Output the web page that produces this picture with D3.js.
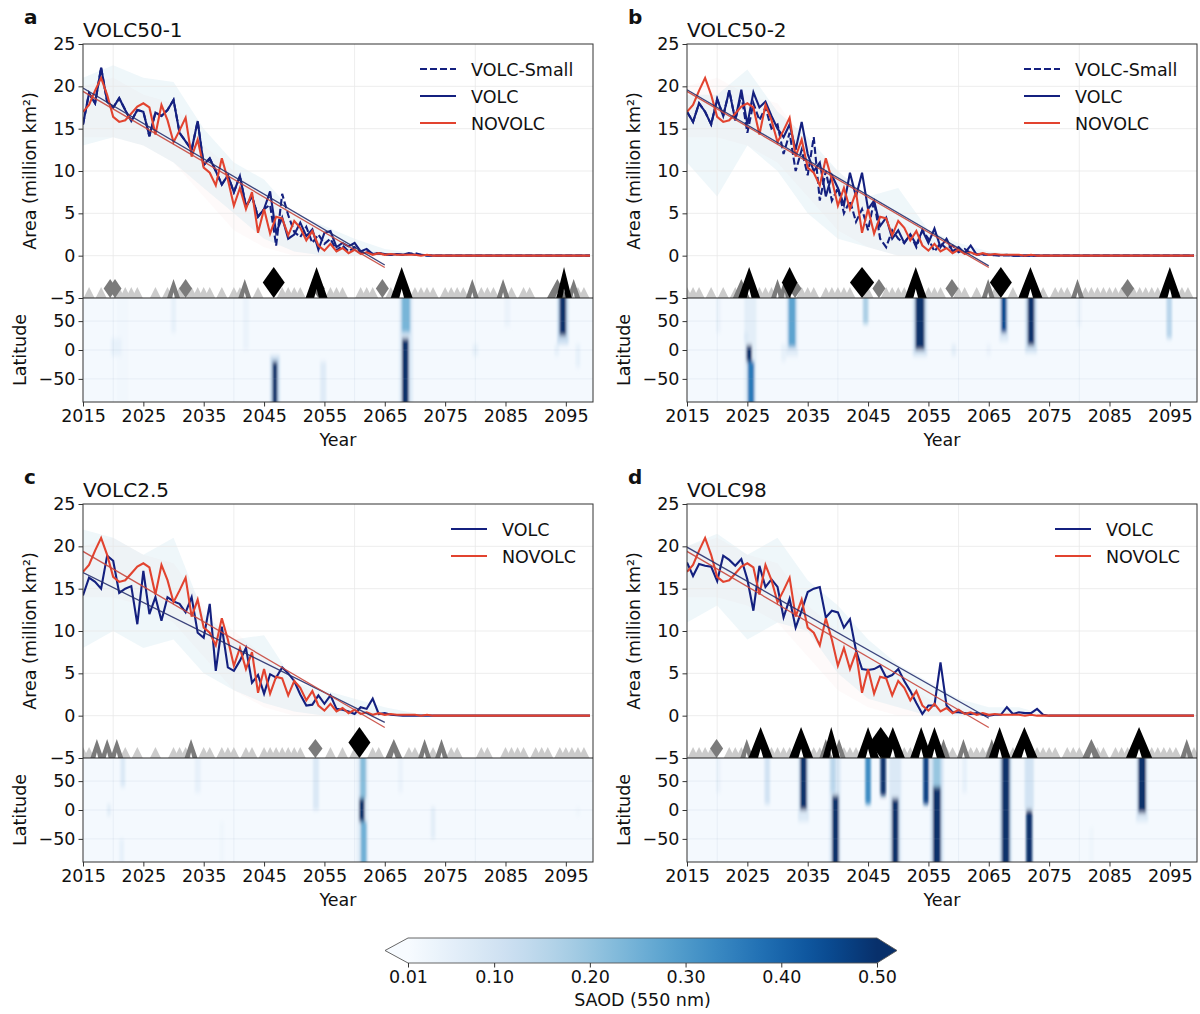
<!DOCTYPE html>
<html>
<head>
<meta charset="utf-8">
<script src="https://cdn.jsdelivr.net/npm/d3@7"></script>
<style>
  body { margin: 0; background: #fff; }
  svg { font-family: "DejaVu Sans", sans-serif; display: block; }
</style>
</head>
<body>
<svg id="fig" width="1200" height="1014"></svg>
<script>
// Années 2015-2099
const years = d3.range(2015, 2100);
const seriesNames = ["VOLC-Small", "VOLC", "NOVOLC"];

// Surface (million km²), NOVOLC identique dans les 4 panneaux
const novolc = [
  17.0, 17.8, 19.5, 21.0, 19.0, 16.4, 15.8, 16.0, 16.8, 17.6,
  18.0, 17.5, 14.3, 17.8, 16.0, 13.4, 14.8, 16.3, 11.7, 13.7,
  10.4, 9.8, 8.3, 11.5, 9.0, 5.9, 8.0, 5.5, 7.5, 2.7,
  5.5, 2.6, 4.6, 4.4, 2.4, 4.1, 3.3, 1.8, 2.9, 1.2,
  0.6, 1.4, 0.5, 0.9, 0.3, 0.7, 0.2, 0.4, 0.1, 0.3,
  0.1, 0.2, 0.1, 0.1, 0.1, 0.1, 0.0, 0.1, 0.0, 0.0,
  0, 0, 0, 0, 0, 0, 0, 0, 0, 0,
  0, 0, 0, 0, 0, 0, 0, 0, 0, 0,
  0, 0, 0, 0, 0
];

const volcA = [
  15.5, 19.2, 18.0, 22.2, 18.2, 17.5, 18.6, 17.2, 15.9, 17.2,
  17.0, 14.1, 16.9, 16.5, 17.2, 18.4, 14.5, 13.5, 12.5, 15.9,
  10.7, 11.5, 10.0, 8.4, 9.5, 7.5, 9.4, 5.8, 7.0, 4.6,
  5.5, 7.6, 2.7, 4.5, 2.0, 2.5, 3.9, 2.3, 3.1, 0.7,
  2.7, 2.9, 1.0, 1.5, 1.1, 1.5, 0.5, 0.8, 0.2, 0.3,
  0.2, 0.1, 0.2, 0.1, 0.3, 0.1, 0.1, 0.05, 0, 0,
  0, 0, 0, 0, 0, 0, 0, 0, 0, 0,
  0, 0, 0, 0, 0, 0, 0, 0, 0, 0,
  0, 0, 0, 0, 0
];
const volcSmallA = [
  15.5, 19.2, 18.0, 22.2, 18.2, 17.5, 18.6, 17.2, 15.9, 17.2,
  17.0, 14.1, 16.9, 16.5, 17.2, 18.4, 14.5, 13.5, 12.5, 15.9,
  10.7, 11.5, 10.0, 8.4, 9.5, 7.5, 9.4, 5.8, 7.0, 4.6,
  5.5, 6.0, 1.2, 7.3, 4.8, 2.8, 2.2, 3.4, 1.5, 2.5,
  1.4, 2.0, 0.6, 1.2, 0.5, 1.0, 0.3, 0.5, 0.2, 0.3,
  0.1, 0.1, 0.2, 0.1, 0.2, 0.3, 0.1, 0, 0, 0,
  0, 0, 0, 0, 0, 0, 0, 0, 0, 0,
  0, 0, 0, 0, 0, 0, 0, 0, 0, 0,
  0, 0, 0, 0, 0
];

const volcB = [
  17.0, 15.8, 18.0, 17.0, 15.5, 18.5, 16.5, 19.5, 16.0, 19.6,
  15.5, 19.3, 17.5, 18.2, 16.5, 15.0, 14.0, 15.5, 12.5, 15.8,
  12.0, 10.0, 11.0, 7.0, 9.5, 8.0, 6.0, 9.8, 7.0, 9.8,
  5.5, 6.5, 3.5, 4.5, 2.0, 3.0, 1.5, 2.5, 1.3, 3.0,
  1.5, 3.2, 1.0, 2.0, 0.5, 1.0, 0.3, 1.2, 0.1, 0.2,
  0.1, 0.1, 0.05, 0.1, 0, 0, 0, 0, 0, 0,
  0, 0, 0, 0, 0, 0, 0, 0, 0, 0,
  0, 0, 0, 0, 0, 0, 0, 0, 0, 0,
  0, 0, 0, 0, 0
];
const volcSmallB = [
  17.0, 15.8, 18.0, 17.0, 15.5, 18.5, 16.5, 19.5, 16.0, 19.0,
  14.5, 18.0, 16.0, 17.5, 15.0, 15.5, 12.0, 14.5, 10.0, 12.5,
  9.5, 14.0, 6.5, 10.0, 6.5, 8.0, 5.0, 6.5, 4.0, 5.5,
  3.0, 6.5, 2.0, 1.0, 3.0, 2.0, 1.5, 2.5, 1.0, 3.0,
  2.0, 0.5, 1.5, 0.8, 1.2, 0.4, 0.8, 0.3, 0.2, 0.1,
  0.1, 0.05, 0, 0.05, 0, 0, 0, 0, 0, 0,
  0, 0, 0, 0, 0, 0, 0, 0, 0, 0,
  0, 0, 0, 0, 0, 0, 0, 0, 0, 0,
  0, 0, 0, 0, 0
];

const volcC = [
  14.2, 16.3, 15.8, 15.0, 18.9, 18.3, 14.5, 15.0, 15.3, 10.8,
  17.1, 12.0, 14.0, 11.2, 14.0, 13.5, 13.2, 12.2, 14.0, 9.8,
  9.2, 13.2, 5.3, 10.5, 5.7, 5.3, 6.5, 8.0, 3.9, 4.8,
  2.6, 4.9, 4.5, 5.7, 5.0, 4.1, 2.5, 1.2, 1.3, 2.4,
  1.4, 2.4, 0.8, 0.7, 0.5, 0.2, 1.0, 0.8, 2.0, 0.2,
  0.3, 0.1, 0.05, 0, 0, 0, 0, 0, 0, 0,
  0, 0, 0, 0, 0, 0, 0, 0, 0, 0,
  0, 0, 0, 0, 0, 0, 0, 0, 0, 0,
  0, 0, 0, 0, 0
];

const volcD = [
  18.1, 16.5, 17.9, 17.7, 17.6, 15.9, 18.9, 18.4, 17.7, 18.5,
  16.1, 12.4, 17.7, 15.2, 16.1, 15.2, 11.6, 13.8, 10.4, 12.4,
  14.6, 15.0, 15.2, 11.6, 12.4, 12.2, 10.4, 11.4, 7.7, 5.5,
  5.4, 5.5, 5.9, 4.5, 4.8, 5.5, 4.1, 2.9, 1.5, 0.2,
  1.2, 1.2, 6.3, 1.2, 0.4, 0.4, 0.3, 0.2, 0.3, 0.1,
  0.0, 0.1, 0.1, 1.0, 0.2, 0.4, 0.3, 0.3, 0.8, 0.1,
  0, 0, 0, 0, 0, 0, 0, 0, 0, 0,
  0, 0, 0, 0, 0, 0, 0, 0, 0, 0,
  0, 0, 0, 0, 0
];

// Enveloppe de l'ensemble (pas de 5 ans, 2015-2095)
const envYears = d3.range(2015, 2100, 5);
const novLo = [14, 14, 13, 11, 7, 3, 1, 0, 0, 0, 0, 0, 0, 0, 0, 0, 0];
const novHi = [20, 21, 19, 18, 13, 10, 7, 4, 2, 1, 0.3, 0, 0, 0, 0, 0, 0];
const envLoA = [13, 14, 13, 11, 8, 5, 2, 0.5, 0, 0, 0, 0, 0, 0, 0, 0, 0];
const envHiA = [21, 22.5, 21, 20.5, 15, 11, 9, 5, 3.5, 2, 0.8, 0.3, 0, 0, 0, 0, 0];
const envLoB = [11, 7, 13, 10, 5, 2, 1, 0, 0, 0, 0, 0, 0, 0, 0, 0, 0];
const envHiB = [19, 19, 22, 17, 14, 10, 7, 8, 3, 1.5, 0.5, 0.2, 0, 0, 0, 0, 0];
const envLoC = [8, 10, 8, 9, 5, 3, 1.5, 0.5, 0, 0, 0, 0, 0, 0, 0, 0, 0];
const envHiC = [22, 21, 19, 21, 12, 9, 9.5, 4, 3, 2, 1, 0.3, 0, 0, 0, 0, 0];
const envLoD = [11, 13, 9, 11, 10, 5, 2, 1, 0, 0, 0, 0, 0, 0, 0, 0, 0];
const envHiD = [20, 21.5, 19, 21, 16, 13, 9, 6, 4, 2, 1, 1, 0, 0, 0, 0, 0];

// Tendances linéaires (valeurs en 2015 et 2065)
const trendYears = [2015, 2065];
const trendNovolc = [19.4, -1.4];
const trendA = [19.8, -1.1];
const trendB = [19.6, -1.2];
const trendC = [16.9, -0.8];
const trendD = [19.9, -0.3];

// Éruptions : petites (gris clair), [année, classe, forme, taille]
const lightA = [2016, 2018, 2021, 2022, 2023, 2024, 2027, 2029, 2031, 2033, 2034, 2035, 2036, 2038, 2040, 2041, 2044, 2048, 2049, 2050, 2051, 2056, 2057, 2058, 2061, 2062, 2063, 2066, 2070, 2071, 2072, 2073, 2075, 2076, 2077, 2078, 2081, 2082, 2083, 2086, 2088, 2089, 2093, 2097, 2098];
const marksA = [[2019.5, 2, "d"], [2020.3, 2, "d"], [2030, 2, "^"], [2032, 2, "d"], [2041.8, 2, "^"], [2054, 2, "d"], [2064.6, 2, "d"], [2079.5, 2, "^"], [2084.6, 2, "^"], [2093.6, 2, "^", 1.6], [2096.3, 2, "^"],
  [2046.6, 3, "d"], [2053.7, 3, "^"], [2067.8, 3, "^"], [2094.7, 3, "^", 0.7]];
const lightB = [2015, 2016, 2017, 2019, 2021, 2023, 2027, 2028, 2029, 2031, 2034, 2035, 2036, 2038, 2039, 2040, 2041, 2042, 2045, 2048, 2049, 2050, 2051, 2055, 2056, 2057, 2060, 2061, 2063, 2066, 2069, 2074, 2076, 2077, 2078, 2081, 2082, 2083, 2084, 2085, 2086, 2087, 2089, 2090, 2091, 2092, 2093, 2096, 2097, 2098];
const marksB = [[2024, 2, "^", 1.3], [2030, 2, "^"], [2031.2, 2, "^"], [2032.9, 2, "d"], [2046.8, 2, "d"], [2058.9, 2, "d"], [2064.9, 2, "^"], [2079.7, 2, "^"], [2088, 2, "d"],
  [2025.3, 3, "^"], [2032, 3, "d", 0.7], [2044, 3, "d", 1.1], [2052.9, 3, "^"], [2067, 3, "d"], [2071.9, 3, "^", 1.1], [2095, 3, "^"]];
const lightC = [2015, 2016, 2022, 2024, 2027, 2030, 2031, 2032, 2035, 2036, 2038, 2039, 2040, 2042, 2043, 2045, 2046, 2047, 2048, 2049, 2050, 2051, 2056, 2058, 2060, 2063, 2064, 2069, 2070, 2073, 2076, 2077, 2081, 2082, 2085, 2086, 2087, 2088, 2090, 2091, 2092, 2094, 2095, 2096, 2097, 2098];
const marksC = [[2017.3, 2, "^"], [2019, 2, "^"], [2020.6, 2, "^"], [2032.9, 2, "^"], [2053.5, 2, "d", 1.1], [2066.5, 2, "^", 1.3], [2071.6, 2, "^"], [2074.4, 2, "^"],
  [2060.8, 3, "d"]];
const lightD = [2016, 2017, 2018, 2019, 2022, 2023, 2024, 2026, 2029, 2030, 2031, 2032, 2035, 2036, 2037, 2041, 2042, 2043, 2050, 2051, 2052, 2058, 2059, 2062, 2063, 2064, 2065, 2069, 2073, 2074, 2075, 2076, 2078, 2079, 2080, 2083, 2084, 2086, 2087, 2088, 2092, 2093, 2094, 2095, 2096, 2098, 2099];
const marksD = [[2019.9, 2, "d"], [2024.9, 2, "^"], [2038, 2, "^"], [2040.2, 2, "^"], [2057.5, 2, "^"], [2060.8, 2, "^"], [2065.5, 2, "^"], [2082, 2, "^", 1.4], [2097.8, 2, "^"],
  [2027.2, 3, "^", 1.1], [2033.9, 3, "^", 1.1], [2038.9, 3, "^", 0.8], [2045, 3, "^"], [2047.1, 3, "d"], [2049.1, 3, "^", 1.1], [2053.8, 3, "^"], [2056, 3, "^"], [2066.8, 3, "^"], [2070.9, 3, "^", 1.2], [2089.9, 3, "^", 1.2]];

// Panaches SAOD : [année, durée, lat haut, lat bas, SAOD]
const plumesA = [[2046.8, 0.8, -20, -90, 0.5], [2046.8, 1.6, -10, -90, 0.12], [2068.5, 1.4, 90, 30, 0.24], [2068.4, 1.1, 20, -90, 0.52], [2068.5, 2.2, 90, -90, 0.08],
  [2094.5, 1.1, 90, 25, 0.5], [2094.5, 1.9, 90, 10, 0.12], [2020.5, 1.8, 20, -10, 0.05], [2021.5, 1.8, 90, -90, 0.025], [2030, 0.8, 90, 30, 0.05], [2042, 1.0, 90, 0, 0.04],
  [2054.8, 1.0, -20, -90, 0.07], [2080, 1.0, 10, -10, 0.05], [2085.3, 1.0, 90, 40, 0.04], [2093.5, 0.8, 10, -10, 0.05], [2097, 0.8, 10, -30, 0.05]];
const plumesB = [[2025.3, 0.9, 8, -20, 0.52], [2025.6, 1.1, -20, -90, 0.36], [2025.5, 2.0, 90, -90, 0.06], [2024.8, 0.7, 30, 15, 0.08], [2032.4, 1.2, 90, 5, 0.28], [2032.4, 2.0, 90, -10, 0.07],
  [2044.6, 0.9, 90, 45, 0.17], [2053.6, 1.5, 90, 0, 0.5], [2053.6, 2.4, 90, -10, 0.1], [2067.5, 0.9, 90, 30, 0.45], [2067.5, 1.5, 90, 15, 0.08], [2072, 1.1, 90, 8, 0.5], [2072, 2.0, 90, -5, 0.1],
  [2094.9, 0.9, 90, 20, 0.15], [2020.2, 0.8, 90, 30, 0.04], [2059.2, 0.8, 10, -10, 0.06], [2065, 0.8, 10, -10, 0.04], [2080, 0.8, 90, 40, 0.04], [2031, 0.8, 10, -20, 0.05]];
const plumesC = [[2061.2, 0.9, 20, -20, 0.52], [2061.4, 1.0, 90, 20, 0.22], [2061.5, 1.0, -20, -90, 0.25], [2061.3, 1.9, 90, -90, 0.06], [2021.6, 0.8, 90, 40, 0.08], [2021.4, 0.8, -50, -90, 0.05],
  [2019.3, 0.7, 10, -10, 0.06], [2034, 1.0, 90, 30, 0.05], [2038, 0.8, -20, -90, 0.03], [2053.6, 1.0, 90, 0, 0.08], [2067.6, 0.8, 90, 30, 0.04], [2073, 0.8, 5, -50, 0.06], [2097, 0.8, 5, -10, 0.03]];
const plumesD = [[2034.3, 1.1, 90, 0, 0.5], [2034.3, 1.8, 90, -20, 0.08], [2039.2, 0.8, 90, 30, 0.15], [2039.6, 1.1, 25, -90, 0.5], [2039.5, 1.9, 90, -90, 0.08], [2045, 0.9, 90, 10, 0.33],
  [2047.5, 0.9, 90, 25, 0.5], [2049.5, 1.1, 20, -90, 0.5], [2049.5, 2.0, 90, -90, 0.08], [2054.6, 0.9, 90, 10, 0.47], [2056.4, 1.3, 40, -90, 0.55], [2056.4, 1.2, 90, 40, 0.2], [2056.4, 2.2, 90, -90, 0.1],
  [2067.8, 1.3, 90, -90, 0.55], [2067.8, 2.0, 90, -90, 0.1], [2071.7, 1.0, 0, -90, 0.5], [2071.7, 1.5, 90, 0, 0.1], [2090.4, 1.3, 90, -5, 0.5], [2090.4, 2.0, 90, -20, 0.08],
  [2020.2, 0.8, 90, 30, 0.04], [2028.3, 0.9, 90, 10, 0.1], [2061, 0.8, 90, 30, 0.05], [2082, 0.8, -30, -90, 0.03]];

const cbTicks = [0.01, 0.1, 0.2, 0.3, 0.4, 0.5];

const panels = [
  {letter: "a", title: "VOLC50-1", left: 83, top: 44, volc: volcA, small: volcSmallA, lo: envLoA, hi: envHiA, trend: trendA, light: lightA, marks: marksA, plumes: plumesA},
  {letter: "b", title: "VOLC50-2", left: 687, top: 44, volc: volcB, small: volcSmallB, lo: envLoB, hi: envHiB, trend: trendB, light: lightB, marks: marksB, plumes: plumesB},
  {letter: "c", title: "VOLC2.5", left: 83, top: 504, volc: volcC, small: null, lo: envLoC, hi: envHiC, trend: trendC, light: lightC, marks: marksC, plumes: plumesC},
  {letter: "d", title: "VOLC98", left: 687, top: 504, volc: volcD, small: null, lo: envLoD, hi: envHiD, trend: trendD, light: lightD, marks: marksD, plumes: plumesD}
];

const W = 510, HU = 254, HL = 104;
const FONT = "DejaVu Sans";
const navy = "#14207f", red = "#e2432f";
const cmap = v => d3.interpolateBlues(Math.max(0, Math.min(1, (v - 0.01) / 0.49)));

const svg = d3.select("#fig");
const defs = svg.append("defs");
defs.append("filter").attr("id", "soft")
  .attr("x", "-50%").attr("y", "-30%").attr("width", "200%").attr("height", "160%")
  .append("feGaussianBlur").attr("stdDeviation", "0.8 2.5");

const markStyle = {1: {w: 11, h: 11, c: "#cbcbcb"}, 2: {w: 13, h: 19, c: "#7b7b7b"}, 3: {w: 22, h: 31, c: "#000"}};

function markerPath(shape, w, h) {
  if (shape === "d") return `M0,${-h}L${w / 2},${-h / 2}L0,0L${-w / 2},${-h / 2}Z`;
  if (shape === "t") return `M0,${-h}L${w / 2},0L${-w / 2},0Z`;
  // chevron : triangle plein avec petite encoche à la base
  const n = h * 0.3;
  return `M0,${-h}L${w / 2},0L${w * 0.11},0L0,${-n}L${-w * 0.11},0L${-w / 2},0Z`;
}

function styleAxis(ax) {
  ax.select(".domain").remove();
  ax.selectAll("line").attr("stroke", "#333");
  ax.selectAll("text").attr("font-size", 17.5).attr("font-family", FONT).attr("fill", "#111");
}

panels.forEach((p, i) => {
  const g = svg.append("g").attr("transform", `translate(${p.left},${p.top})`);
  const x = d3.scaleLinear().domain([2015, 2099.5]).range([0, W]);
  const y = d3.scaleLinear().domain([-5, 25]).range([HU, 0]);
  const yl = d3.scaleLinear().domain([-90, 90]).range([HU + HL, HU]);
  const gridYears = [2020, 2040, 2060, 2080];

  defs.append("clipPath").attr("id", "up" + i).append("rect").attr("width", W).attr("height", HU);
  defs.append("clipPath").attr("id", "lo" + i).append("rect").attr("y", HU).attr("width", W).attr("height", HL);

  // carte SAOD latitude / année
  const hm = g.append("g").attr("clip-path", `url(#lo${i})`);
  hm.append("rect").attr("y", HU).attr("width", W).attr("height", HL).attr("fill", cmap(0.018));
  hm.append("g").attr("filter", "url(#soft)")
    .selectAll("rect").data(p.plumes.slice().sort((a, b) => a[4] - b[4])).join("rect")
    .attr("x", d => x(d[0] - d[1] / 2))
    .attr("width", d => x(d[0] + d[1] / 2) - x(d[0] - d[1] / 2))
    .attr("y", d => yl(d[2] >= 90 ? 105 : d[2]))
    .attr("height", d => yl(d[3] <= -90 ? -105 : d[3]) - yl(d[2] >= 90 ? 105 : d[2]))
    .attr("fill", d => cmap(d[4]));
  hm.selectAll(".vg").data(gridYears).join("line")
    .attr("x1", d => x(d)).attr("x2", d => x(d)).attr("y1", HU).attr("y2", HU + HL)
    .attr("stroke", "#9fb3c8").attr("stroke-opacity", 0.18).attr("stroke-width", 0.8);
  hm.selectAll(".hg").data([-50, 0, 50]).join("line")
    .attr("x1", 0).attr("x2", W).attr("y1", d => yl(d)).attr("y2", d => yl(d))
    .attr("stroke", "#9fb3c8").attr("stroke-opacity", 0.18).attr("stroke-width", 0.8);

  // surface de glace
  const up = g.append("g").attr("clip-path", `url(#up${i})`);
  const area = d3.area().x((d, j) => x(envYears[j])).y0(d => y(d[0])).y1(d => y(d[1]));
  up.append("path").attr("d", area(d3.zip(novLo, novHi))).attr("fill", "#f4a3a3").attr("opacity", 0.06);
  up.append("path").attr("d", area(d3.zip(p.lo, p.hi))).attr("fill", "#add8e6").attr("opacity", 0.2);
  up.selectAll(".vg").data(gridYears).join("line")
    .attr("x1", d => x(d)).attr("x2", d => x(d)).attr("y1", 0).attr("y2", HU)
    .attr("stroke", "#e8e8e8").attr("stroke-width", 0.8);
  up.selectAll(".hg").data([0, 5, 10, 15, 20]).join("line")
    .attr("x1", 0).attr("x2", W).attr("y1", d => y(d)).attr("y2", d => y(d))
    .attr("stroke", "#e8e8e8").attr("stroke-width", 0.8);

  const line = d3.line().x((d, j) => x(years[j])).y(d => y(d));
  if (p.small) {
    up.append("path").attr("d", line(p.small)).attr("fill", "none")
      .attr("stroke", navy).attr("stroke-width", 2.1).attr("stroke-dasharray", "7,3");
  }
  up.append("path").attr("d", line(p.volc)).attr("fill", "none").attr("stroke", navy).attr("stroke-width", 2.1);
  up.append("path").attr("d", line(novolc)).attr("fill", "none").attr("stroke", red).attr("stroke-width", 2.1);

  const tline = d3.line().x((d, j) => x(trendYears[j])).y(d => y(d));
  up.append("path").attr("d", tline(p.trend)).attr("fill", "none").attr("stroke", "#27306e").attr("stroke-width", 1.3).attr("opacity", 0.9);
  up.append("path").attr("d", tline(trendNovolc)).attr("fill", "none").attr("stroke", "#c8473d").attr("stroke-width", 1.3).attr("opacity", 0.9);

  // éruptions volcaniques
  const marks = p.light.map(yr => [yr, 1, "t", 1])
    .concat(p.marks.map(m => [m[0], m[1], m[2], m[3] || 1]))
    .sort((a, b) => a[1] - b[1]);
  up.selectAll(".mk").data(marks).join("path")
    .attr("transform", d => `translate(${x(d[0])},${y(-5)})`)
    .attr("d", d => markerPath(d[2], markStyle[d[1]].w * d[3], markStyle[d[1]].h))
    .attr("fill", d => markStyle[d[1]].c);

  // cadres
  g.append("rect").attr("width", W).attr("height", HU + HL).attr("fill", "none").attr("stroke", "#333").attr("stroke-width", 1);
  g.append("line").attr("x1", 0).attr("x2", W).attr("y1", HU).attr("y2", HU).attr("stroke", "#222").attr("stroke-width", 1.2);

  // axes
  g.append("g").call(d3.axisLeft(y).tickValues([-5, 0, 5, 10, 15, 20, 25]).tickSize(4.5).tickPadding(3)).call(styleAxis);
  g.append("g").call(d3.axisLeft(yl).tickValues([-50, 0, 50]).tickSize(4.5).tickPadding(3)).call(styleAxis);
  g.append("g").attr("transform", `translate(0,${HU + HL})`)
    .call(d3.axisBottom(x).tickValues(d3.range(2015, 2096, 10)).tickFormat(d3.format("d")).tickSize(4.5).tickPadding(3))
    .call(styleAxis);

  const txt = (tx, ty, s, size, extra) => {
    const t = g.append("text").attr("x", tx).attr("y", ty).attr("font-family", FONT)
      .attr("font-size", size).attr("fill", "#111").text(s);
    if (extra) extra(t);
    return t;
  };
  txt(0, -7, p.title, 20);
  txt(-59, -20, p.letter, 20, t => t.attr("font-weight", "bold"));
  txt(W / 2, HU + HL + 44, "Year", 17.5, t => t.attr("text-anchor", "middle"));
  txt(0, 0, "Latitude", 17.5, t => t.attr("text-anchor", "middle")
    .attr("transform", `translate(-57,${HU + HL / 2}) rotate(-90)`));
  txt(0, 0, "Area (million km²)", 17.5, t => t.attr("text-anchor", "middle")
    .attr("transform", `translate(-47,${HU / 2}) rotate(-90)`));

  // légende
  const entries = p.small ? [[seriesNames[0], navy, "7,3"], [seriesNames[1], navy, null], [seriesNames[2], red, null]]
                          : [[seriesNames[1], navy, null], [seriesNames[2], red, null]];
  const lx = p.small ? 337 : 368;
  entries.forEach((e, k) => {
    const ly = 25 + 27 * k;
    g.append("line").attr("x1", lx).attr("x2", lx + 36).attr("y1", ly).attr("y2", ly)
      .attr("stroke", e[1]).attr("stroke-width", 2.1).attr("stroke-dasharray", e[2]);
    txt(lx + 51, ly + 6.5, e[0], 17.5);
  });
});

// barre de couleur
const cb = d3.scaleLinear().domain([0.01, 0.5]).range([408, 877]);
const cbTop = 938, cbH = 25;
const grad = defs.append("linearGradient").attr("id", "cbgrad");
d3.range(0, 1.0001, 0.05).forEach(t => grad.append("stop").attr("offset", t).attr("stop-color", d3.interpolateBlues(t)));
const cbg = svg.append("g");
cbg.append("rect").attr("x", cb(0.01)).attr("y", cbTop).attr("width", cb(0.5) - cb(0.01)).attr("height", cbH).attr("fill", "url(#cbgrad)");
cbg.append("path").attr("d", `M${cb(0.01)},${cbTop}L${cb(0.01) - 23},${cbTop + cbH / 2}L${cb(0.01)},${cbTop + cbH}Z`).attr("fill", d3.interpolateBlues(0));
cbg.append("path").attr("d", `M${cb(0.5)},${cbTop}L${cb(0.5) + 20},${cbTop + cbH / 2}L${cb(0.5)},${cbTop + cbH}Z`).attr("fill", d3.interpolateBlues(1));
cbg.append("path")
  .attr("d", `M${cb(0.01)},${cbTop}L${cb(0.5)},${cbTop}L${cb(0.5) + 20},${cbTop + cbH / 2}L${cb(0.5)},${cbTop + cbH}L${cb(0.01)},${cbTop + cbH}L${cb(0.01) - 23},${cbTop + cbH / 2}Z`)
  .attr("fill", "none").attr("stroke", "#555").attr("stroke-width", 0.9);
cbg.append("g").attr("transform", `translate(0,${cbTop + cbH})`)
  .call(d3.axisBottom(cb).tickValues(cbTicks).tickFormat(d3.format(".2f")).tickSize(4.5).tickPadding(3))
  .call(styleAxis);
cbg.append("text").attr("x", (cb(0.01) + cb(0.5)) / 2).attr("y", 1006).attr("text-anchor", "middle")
  .attr("font-family", FONT).attr("font-size", 17.5).attr("fill", "#111").text("SAOD (550 nm)");
</script>
</body>
</html>
